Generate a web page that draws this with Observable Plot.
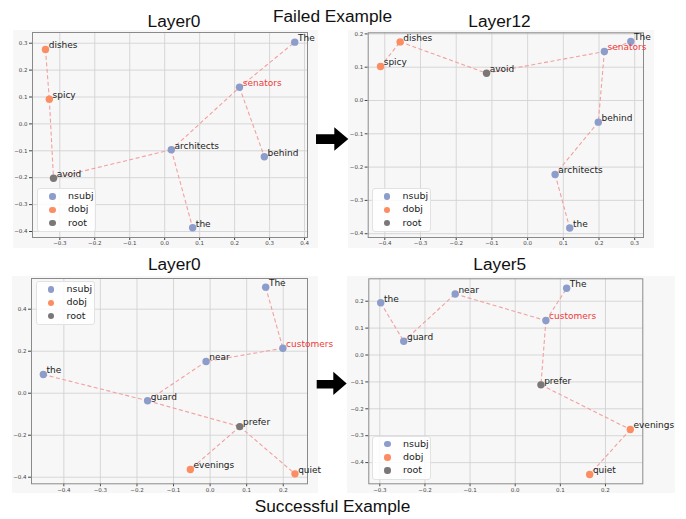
<!DOCTYPE html>
<html>
<head>
<meta charset="utf-8">
<script src="https://cdn.jsdelivr.net/npm/d3@7"></script>
<script src="https://cdn.jsdelivr.net/npm/@observablehq/plot@0.6"></script>
<style>
  body { margin: 0; background: #fff; }
  #root { position: relative; width: 686px; height: 519px; overflow: hidden; background: #fff; }
  .panel { position: absolute; }
  .legend { position: absolute; width: 59px; height: 44px; box-sizing: border-box;
    background: rgba(255,255,255,0.85); border: 1px solid #e2e2e2; border-radius: 3px;
    font-family: "DejaVu Sans", sans-serif; font-size: 9.5px; color: #222; }
  .legend .dot { position: absolute; width: 6.5px; height: 6.5px; border-radius: 50%; }
  .legend .lab { position: absolute; line-height: 12px; }
  #overlay { position: absolute; left: 0; top: 0; pointer-events: none; }
</style>
</head>
<body>
<div id="root"></div>
<script>
// ---------- data ----------
const depTypes = ["nsubj", "dobj", "root"];
const depColors = ["#8c9dcb", "#fc8d62", "#7b7777"];
const highlightWords = ["senators", "customers"];

const figureTitles = ["Failed Example", "Successful Example"];
const panelTitles = ["Layer0", "Layer12", "Layer0", "Layer5"];

// Failed example, Layer0
const failL0Words = ["The", "senators", "behind", "architects", "the", "avoid", "spicy", "dishes"];
const failL0X = [0.372, 0.214, 0.285, 0.019, 0.080, -0.318, -0.330, -0.341];
const failL0Y = [0.304, 0.136, -0.122, -0.096, -0.386, -0.202, 0.092, 0.277];
const failL0Dep = ["nsubj", "nsubj", "nsubj", "nsubj", "nsubj", "root", "dobj", "dobj"];
const failL0Edges = [["dishes", "spicy"], ["spicy", "avoid"], ["avoid", "architects"], ["architects", "senators"], ["senators", "The"], ["senators", "behind"], ["architects", "the"]];

// Failed example, Layer12
const failL12Words = ["The", "senators", "avoid", "dishes", "spicy", "behind", "architects", "the"];
const failL12X = [0.289, 0.215, -0.115, -0.357, -0.412, 0.198, 0.077, 0.118];
const failL12Y = [0.177, 0.147, 0.082, 0.176, 0.102, -0.065, -0.222, -0.383];
const failL12Dep = ["nsubj", "nsubj", "root", "dobj", "dobj", "nsubj", "nsubj", "nsubj"];
const failL12Edges = [["spicy", "dishes"], ["dishes", "avoid"], ["avoid", "senators"], ["senators", "The"], ["senators", "behind"], ["behind", "architects"], ["architects", "the"]];

// Successful example, Layer0
const succL0Words = ["The", "customers", "near", "the", "guard", "prefer", "evenings", "quiet"];
const succL0X = [0.152, 0.199, -0.011, -0.456, -0.171, 0.081, -0.054, 0.232];
const succL0Y = [0.505, 0.214, 0.151, 0.089, -0.036, -0.159, -0.363, -0.384];
const succL0Dep = ["nsubj", "nsubj", "nsubj", "nsubj", "nsubj", "root", "dobj", "dobj"];
const succL0Edges = [["The", "customers"], ["customers", "near"], ["near", "guard"], ["the", "guard"], ["guard", "prefer"], ["prefer", "evenings"], ["prefer", "quiet"]];

// Successful example, Layer5
const succL5Words = ["the", "guard", "near", "The", "customers", "prefer", "evenings", "quiet"];
const succL5X = [-0.298, -0.247, -0.133, 0.114, 0.068, 0.057, 0.255, 0.165];
const succL5Y = [0.194, 0.051, 0.227, 0.248, 0.128, -0.111, -0.277, -0.444];
const succL5Dep = ["nsubj", "nsubj", "nsubj", "nsubj", "nsubj", "root", "dobj", "dobj"];
const succL5Edges = [["the", "guard"], ["guard", "near"], ["near", "customers"], ["customers", "The"], ["customers", "prefer"], ["prefer", "evenings"], ["evenings", "quiet"]];

// tick values
const ticksP1X = [-0.3, -0.2, -0.1, 0.0, 0.1, 0.2, 0.3, 0.4];
const ticksP1Y = [-0.4, -0.3, -0.2, -0.1, 0.0, 0.1, 0.2, 0.3];
const ticksP2X = [-0.4, -0.3, -0.2, -0.1, 0.0, 0.1, 0.2, 0.3];
const ticksP2Y = [-0.4, -0.3, -0.2, -0.1, 0.0, 0.1, 0.2];
const ticksP3X = [-0.4, -0.3, -0.2, -0.1, 0.0, 0.1, 0.2];
const ticksP3Y = [-0.4, -0.2, 0.0, 0.2, 0.4];
const ticksP4X = [-0.3, -0.2, -0.1, 0.0, 0.1, 0.2];
const ticksP4Y = [-0.4, -0.3, -0.2, -0.1, 0.0, 0.1, 0.2];

// ---------- layout ----------
const panels = [
  { words: failL0Words, xs: failL0X, ys: failL0Y, dep: failL0Dep, edges: failL0Edges,
    xTicks: ticksP1X, yTicks: ticksP1Y, xDomain: [-0.3781, 0.4085], yDomain: [-0.4223, 0.3398],
    left: 13, top: 30, width: 305, height: 218, m: [2, 11, 11, 19], legend: [37, 188] },
  { words: failL12Words, xs: failL12X, ys: failL12Y, dep: failL12Dep, edges: failL12Edges,
    xTicks: ticksP2X, yTicks: ticksP2Y, xDomain: [-0.4465, 0.3246], yDomain: [-0.4114, 0.2033],
    left: 348, top: 30, width: 306, height: 218, m: [2.3, 11, 11, 19.7], legend: [371.5, 188] },
  { words: succL0Words, xs: succL0X, ys: succL0Y, dep: succL0Dep, edges: succL0Edges,
    xTicks: ticksP3X, yTicks: ticksP3Y, xDomain: [-0.4884, 0.2663], yDomain: [-0.4314, 0.5462],
    left: 12, top: 276, width: 306, height: 217, m: [2, 11, 9.7, 19], legend: [35.5, 281] },
  { words: succL5Words, xs: succL5X, ys: succL5Y, dep: succL5Dep, edges: succL5Edges,
    xTicks: ticksP4X, yTicks: ticksP4Y, xDomain: [-0.3244, 0.2827], yDomain: [-0.4788, 0.2833],
    left: 347, top: 276, width: 328, height: 217, m: [2.3, 32.7, 9.7, 21.3], legend: [372, 435.5] }
];

const root = document.getElementById("root");
const fmt = d3.format(".1f");
const colorOf = d => depColors[depTypes.indexOf(d)];

panels.forEach(p => {
  const pts = p.words.map((w, i) => ({ word: w, x: p.xs[i], y: p.ys[i], dep: p.dep[i] }));
  const byWord = new Map(pts.map(d => [d.word, d]));
  const links = p.edges.map(([a, b]) => ({ a: byWord.get(a), b: byWord.get(b) }));

  const chart = Plot.plot({
    width: p.width,
    height: p.height,
    marginTop: p.m[0], marginRight: p.m[1], marginBottom: p.m[2], marginLeft: p.m[3],
    style: { background: "#f7f7f7", color: "#444", fontFamily: "DejaVu Sans, sans-serif", fontSize: "5.5px", overflow: "visible" },
    x: { domain: p.xDomain, ticks: p.xTicks, tickFormat: fmt, tickSize: 3, tickPadding: 1, label: null },
    y: { domain: p.yDomain, ticks: p.yTicks, tickFormat: fmt, tickSize: 3, tickPadding: 2, label: null },
    color: { type: "identity" },
    marks: [
      Plot.ruleX(p.xTicks, { stroke: "#d3d3d3", strokeWidth: 0.9 }),
      Plot.ruleY(p.yTicks, { stroke: "#d3d3d3", strokeWidth: 0.9 }),
      Plot.frame({ stroke: "#8a8a8a", strokeWidth: 1 }),
      Plot.link(links, {
        x1: d => d.a.x, y1: d => d.a.y, x2: d => d.b.x, y2: d => d.b.y,
        stroke: "#f2a0a0", strokeWidth: 1.1, strokeDasharray: "4,2.5"
      }),
      Plot.dot(pts, { x: "x", y: "y", r: 3.7, fill: d => colorOf(d.dep) }),
      Plot.text(pts, {
        x: "x", y: "y", text: "word", textAnchor: "start", dx: 3.2, dy: -4,
        fontSize: 9, fontFamily: "DejaVu Sans, sans-serif",
        fill: d => highlightWords.includes(d.word) ? "#ee3b3b" : "#222"
      })
    ]
  });
  const holder = document.createElement("div");
  holder.className = "panel";
  holder.style.left = p.left + "px";
  holder.style.top = p.top + "px";
  holder.appendChild(chart);
  root.appendChild(holder);

  // legend
  const lg = document.createElement("div");
  lg.className = "legend";
  lg.style.left = p.legend[0] + "px";
  lg.style.top = p.legend[1] + "px";
  depTypes.forEach((t, i) => {
    const cy = 7.5 + i * 13.3;
    const dot = document.createElement("span");
    dot.className = "dot";
    dot.style.background = depColors[i];
    dot.style.left = (14.5 - 3.25) + "px";
    dot.style.top = (cy - 3.25) + "px";
    const lab = document.createElement("span");
    lab.className = "lab";
    lab.textContent = t;
    lab.style.left = "30px";
    lab.style.top = (cy - 6.5) + "px";
    lg.appendChild(dot);
    lg.appendChild(lab);
  });
  root.appendChild(lg);
});

// ---------- titles and arrows ----------
const ns = "http://www.w3.org/2000/svg";
const ov = document.createElementNS(ns, "svg");
ov.setAttribute("id", "overlay");
ov.setAttribute("width", 686);
ov.setAttribute("height", 519);
const titleSpecs = [
  [figureTitles[0], 332.5, 22], [figureTitles[1], 332.5, 512],
  [panelTitles[0], 174, 27], [panelTitles[1], 499.5, 27],
  [panelTitles[2], 174.3, 270], [panelTitles[3], 499.7, 269.5]
];
titleSpecs.forEach(([s, x, y]) => {
  const t = document.createElementNS(ns, "text");
  t.setAttribute("x", x);
  t.setAttribute("y", y);
  t.setAttribute("text-anchor", "middle");
  t.setAttribute("font-family", "Liberation Sans, Arial, sans-serif");
  t.setAttribute("font-size", "17.3");
  t.setAttribute("fill", "#111");
  t.textContent = s;
  ov.appendChild(t);
});
[["316,134.3 334.3,134.3 334.3,127.3 348.3,139 334.3,150.7 334.3,144 316,144"],
 ["316.7,380 333.3,380 333.3,371.7 346.7,383.5 333.3,395 333.3,388.5 316.7,388.5"]].forEach(([pts]) => {
  const pg = document.createElementNS(ns, "polygon");
  pg.setAttribute("points", pts);
  pg.setAttribute("fill", "#000");
  ov.appendChild(pg);
});
root.appendChild(ov);
</script>
</body>
</html>
